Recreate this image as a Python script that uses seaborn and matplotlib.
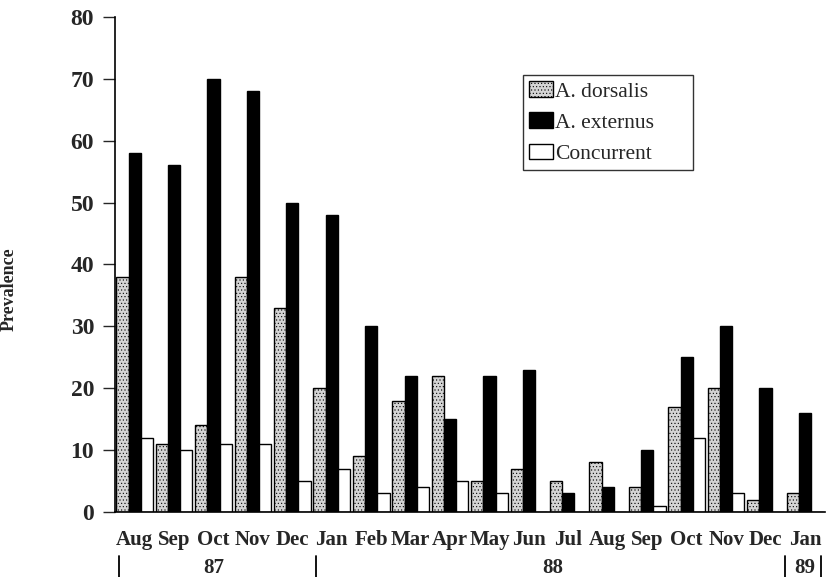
import pandas as pd
import matplotlib.pyplot as plt
import matplotlib.transforms as mtransforms
import seaborn as sns

months = ['Aug', 'Sep', 'Oct', 'Nov', 'Dec', 'Jan', 'Feb', 'Mar', 'Apr',
          'May', 'Jun', 'Jul', 'Aug', 'Sep', 'Oct', 'Nov', 'Dec', 'Jan']
dorsalis = [38, 11, 14, 38, 33, 20, 9, 18, 22, 5, 7, 5, 8, 4, 17, 20, 2, 3]
externus = [58, 56, 70, 68, 50, 48, 30, 22, 15, 22, 23, 3, 4, 10, 25, 30, 20, 16]
concurrent = [12, 10, 11, 11, 5, 7, 3, 4, 5, 3, 0, 0, 0, 1, 12, 3, 0, 0]
series = ['A. dorsalis', 'A. externus', 'Concurrent']
years = ['87', '88', '89']

# long form table, unique period id so repeated month names stay separate
rows = []
for i, m in enumerate(months):
    for name, vals in zip(series, [dorsalis, externus, concurrent]):
        rows.append({'period': f'{i:02d}', 'series': name, 'value': vals[i]})
data = pd.DataFrame(rows)

sns.set_style('white')
plt.rcParams['font.family'] = ['Liberation Serif', 'DejaVu Serif']
plt.rcParams['hatch.linewidth'] = 0.4

fig = plt.figure(figsize=(8.33, 5.77), dpi=100)
ax = fig.add_axes([0.138, 0.1127, 0.852, 0.858])

palette = {'A. dorsalis': '#d4d4d4', 'A. externus': 'black', 'Concurrent': 'white'}
sns.barplot(data=data, x='period', y='value', hue='series', hue_order=series,
            palette=palette, width=0.93, edgecolor='black', linewidth=1,
            saturation=1, ax=ax)

# stipple for A. dorsalis bars
for bar in ax.containers[0]:
    bar.set_hatch('.....')

ax.set_xlim(-0.5, 17.5)
ax.set_ylim(0, 80)
ax.set_yticks(range(0, 81, 10))
ax.set_xticks(range(len(months)))
ax.set_xticklabels(months, fontweight='bold', fontsize=15)
for lab in ax.get_yticklabels():
    lab.set_fontweight('bold')
    lab.set_fontsize(17)
ax.tick_params(axis='y', length=9, width=1, direction='out', pad=6, left=True)
ax.tick_params(axis='x', length=0, pad=13)
ax.set_xlabel('')
ax.set_ylabel('Prevalence', fontweight='bold', fontsize=13)
ax.yaxis.set_label_coords(-0.137, 0.45)
sns.despine(ax=ax)
for s in ['left', 'bottom']:
    ax.spines[s].set_color('black')
    ax.spines[s].set_linewidth(1.2)

# year labels with separators under the months
trans = mtransforms.blended_transform_factory(ax.transData, ax.transAxes)
for xpos in [-0.4, 4.6, 16.5, 17.4]:
    ax.plot([xpos, xpos], [-0.088, -0.135], color='black', lw=1.3,
            transform=trans, clip_on=False)
for xpos, yr in zip([2.0, 10.6, 17.0], years):
    ax.text(xpos, -0.114, yr, transform=trans, ha='center', va='center',
            fontweight='bold', fontsize=15)

handles, labels = ax.get_legend_handles_labels()
handles[0].set_hatch('.....')
ax.legend(handles, labels, loc='upper left', mode='expand',
          bbox_to_anchor=(0.575, 0.687, 0.24, 0.196),
          frameon=True, fancybox=False, edgecolor='black', fontsize=15.5,
          handlelength=1.1, handleheight=0.75, handletextpad=0.1,
          borderpad=0.3, labelspacing=0.5, borderaxespad=0)
ax.get_legend().get_frame().set_linewidth(1)

plt.savefig('out.png', dpi=100)
